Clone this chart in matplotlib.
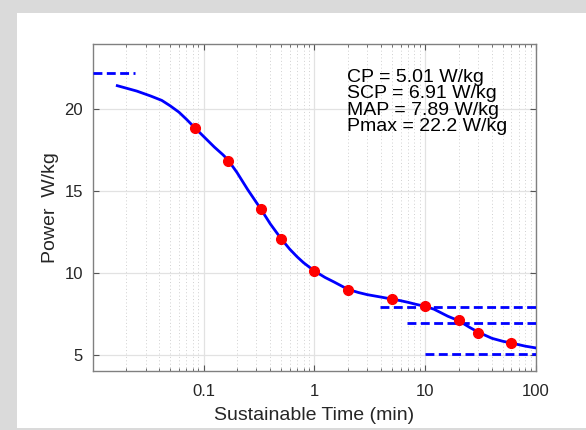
import matplotlib
matplotlib.use('Agg')
from matplotlib import pyplot as plt
from matplotlib.patches import Rectangle
from matplotlib.ticker import LogLocator, NullFormatter

plt.rcParams['font.family'] = ['Liberation Sans', 'DejaVu Sans']

# measured efforts (time in minutes, power in W/kg)
t_pts = [5 / 60, 10 / 60, 20 / 60, 0.5, 1, 2, 5, 10, 20, 30, 60]
p_pts = [18.86, 16.87, 13.88, 12.1, 10.12, 8.93, 8.40, 7.95, 7.13, 6.32, 5.71]

# fitted curve
t_fit = [1 / 60, 0.025, 0.0333, 0.042, 0.05, 0.06, 0.07, 0.0833, 0.1, 0.125,
         0.15, 0.1667, 0.2, 0.25, 0.333, 0.4, 0.5, 0.6, 0.7, 0.8, 1.0, 1.25,
         1.5, 2.0, 2.5, 3.0, 4.0, 5.0, 6.0, 7.0, 8.0, 10, 12, 14, 16, 20, 25,
         30, 40, 50, 60, 80, 100]
p_fit = [21.45, 21.12, 20.82, 20.55, 20.22, 19.83, 19.4, 18.88, 18.35, 17.7,
         17.22, 16.9, 16.15, 15.1, 13.85, 13.0, 12.1, 11.45, 10.98, 10.62,
         10.12, 9.72, 9.45, 9.0, 8.8, 8.67, 8.52, 8.40, 8.3, 8.2, 8.1, 7.95,
         7.78, 7.55, 7.35, 7.08, 6.68, 6.38, 6.0, 5.82, 5.71, 5.52, 5.41]

# model parameters and the ranges of their reference lines
names = ['CP', 'SCP', 'MAP', 'Pmax']
values = [5.01, 6.91, 7.89, 22.2]
line_t0 = [10, 6.8, 3.9, 0.01]
line_t1 = [100, 100, 100, 0.024]

fig = plt.figure(figsize=(5.86, 4.30), dpi=100)
fig.patch.set_facecolor('#dadada')
fig.add_artist(Rectangle((17 / 586, 2 / 430), 1 - 17 / 586, 415 / 430,
                         transform=fig.transFigure, facecolor='white',
                         edgecolor='none', zorder=-5))

ax = fig.add_axes([0.1582, 0.1372, 0.7565, 0.7605])
ax.set_xscale('log')
ax.set_xlim(0.01, 100)
ax.set_ylim(4, 24)

ax.set_xticks([0.1, 1, 10, 100])
ax.set_xticklabels(['0.1', '1', '10', '100'])
ax.xaxis.set_minor_locator(LogLocator(base=10, subs=range(2, 10)))
ax.xaxis.set_minor_formatter(NullFormatter())
ax.set_yticks([5, 10, 15, 20])

ax.grid(True, which='major', color='#e2e2e2', lw=0.9, ls='-')
ax.grid(True, which='minor', axis='x', color='#d0d0d0', lw=0.7, ls=(0, (1, 2.5)))
ax.set_axisbelow(True)

for s in ax.spines.values():
    s.set_color('#808080')
    s.set_linewidth(1.0)
ax.tick_params(which='both', direction='in', top=True, right=True,
               colors='#555555', labelcolor='#262626', labelsize=12)
ax.tick_params(axis='x', pad=9)
ax.tick_params(axis='y', pad=7)
ax.tick_params(which='major', length=4)
ax.tick_params(which='minor', length=2.5)

for v, a, b in zip(values, line_t0, line_t1):
    ax.plot([a, b], [v, v], color='#0000ff', lw=2, dashes=(3.2, 1.6), zorder=3)

ax.plot(t_fit, p_fit, color='#0000ff', lw=2, zorder=4)
ax.plot(t_pts, p_pts, 'o', color='#ff0000', ms=7, zorder=5)

txt = '\n'.join(f'{n} = {v} W/kg' for n, v in zip(names, values))
ax.text((347 - 92.7) / 443.3, (371 - 69) / 327, txt, transform=ax.transAxes,
        fontsize=14, va='top', ha='left', color='black', linespacing=0.95,
        zorder=6)

ax.set_xlabel('Sustainable Time (min)', fontsize=14, color='#262626', labelpad=6)
ax.set_ylabel('Power  W/kg', fontsize=14, color='#262626', labelpad=4)

plt.savefig('out.png', dpi=100)
